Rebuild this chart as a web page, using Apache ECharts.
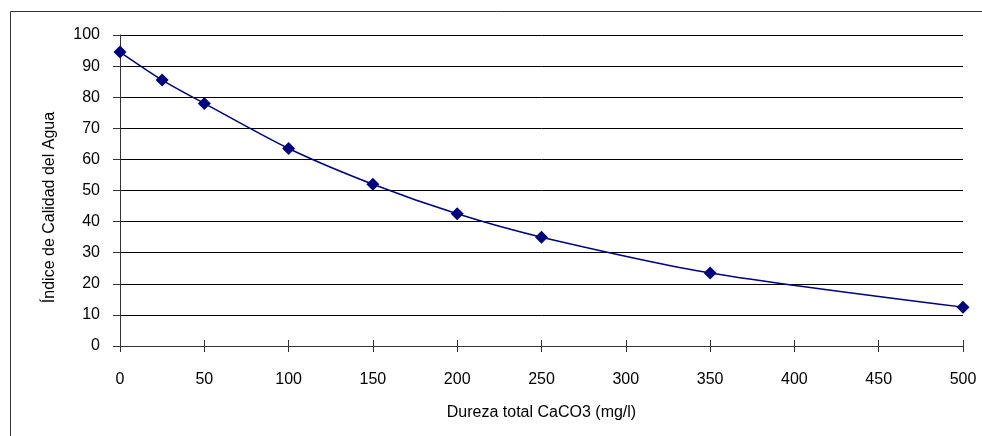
<!DOCTYPE html>
<html>
<head>
<meta charset="utf-8">
<script src="https://cdn.jsdelivr.net/npm/echarts@6/dist/echarts.min.js"></script>
<style>
  html, body { margin: 0; padding: 0; background: #fff; }
  #chart { width: 982px; height: 436px; }
</style>
</head>
<body>
<div id="chart"></div>
<script>
// hardness (mg/l CaCO3) vs water quality index
const hardness = [0, 25, 50, 100, 150, 200, 250, 350, 500];
const qualityIndex = [94.5, 85.5, 78, 63.5, 52, 42.5, 35, 23.5, 12.5];

const font = 'Liberation Sans, Arial, sans-serif';
const chart = echarts.init(document.getElementById('chart'), null, { renderer: 'canvas' });

const xBase = {
  type: 'value',
  min: 0,
  max: 500,
  interval: 50,
  axisLine: { lineStyle: { color: '#333', width: 1 } },
  splitLine: { show: false }
};

chart.setOption({
  animation: false,
  grid: { left: 120, right: 19, top: 35, bottom: 90 },
  graphic: [{
    type: 'rect',
    shape: { x: 10.5, y: 11.5, width: 1000, height: 1000 },
    style: { fill: 'none', stroke: '#333', lineWidth: 1 },
    silent: true
  }],
  xAxis: [
    Object.assign({}, xBase, {
      name: 'Dureza total CaCO3 (mg/l)',
      nameLocation: 'middle',
      nameGap: 59,
      nameTextStyle: { fontFamily: font, fontSize: 16, color: '#000' },
      axisTick: { show: true, length: 6, lineStyle: { color: '#333' } },
      axisLabel: { margin: 26, fontFamily: font, fontSize: 16, color: '#000' }
    }),
    Object.assign({}, xBase, {
      position: 'bottom',
      axisTick: { show: true, inside: true, length: 6, lineStyle: { color: '#333' } },
      axisLabel: { show: false }
    })
  ],
  yAxis: {
    type: 'value',
    min: 0,
    max: 100,
    interval: 10,
    name: 'Índice de Calidad del Agua',
    nameLocation: 'middle',
    nameGap: 62,
    nameTextStyle: { fontFamily: font, fontSize: 16, color: '#000', padding: [0, 34, 0, 0] },
    axisLine: { show: true, lineStyle: { color: '#333', width: 1 } },
    axisTick: { show: true, length: 7, lineStyle: { color: '#333' } },
    axisLabel: { margin: 20, fontFamily: font, fontSize: 16, color: '#000' },
    splitLine: { show: true, lineStyle: { color: '#000', width: 1 } }
  },
  series: [{
    type: 'line',
    xAxisIndex: 0,
    data: hardness.map((h, i) => [h, qualityIndex[i]]),
    smooth: 0.25,
    symbol: 'diamond',
    symbolSize: 13,
    lineStyle: { color: '#000080', width: 1.5 },
    itemStyle: { color: '#000080' }
  }]
});
</script>
</body>
</html>
